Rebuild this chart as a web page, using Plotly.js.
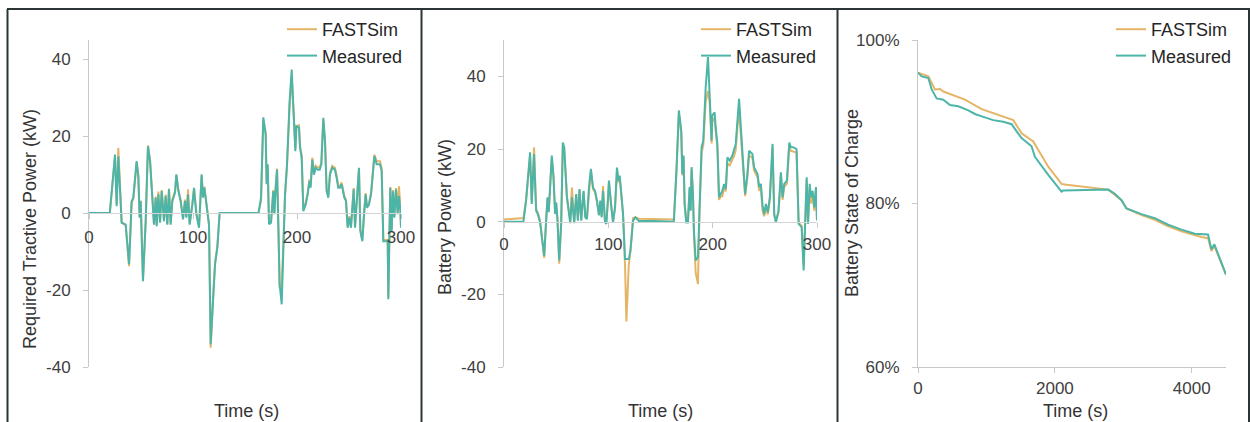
<!DOCTYPE html>
<html>
<head>
<meta charset="utf-8">
<script src="https://cdn.plot.ly/plotly-3.0.1.min.js"></script>
<style>html,body{margin:0;padding:0;background:#fff;}#chart{width:1250px;height:422px;}</style>
</head>
<body>
<div id="chart"></div>
<script>
// ---------- Panel 1: Required tractive power (kW) ----------
const tracTime = [0,20,25,26.6,28.2,30.4,31.4,35.3,38.5,40.1,41,42.6,45.8,47.4,48.7,49.7,51.9,54.5,56.7,58.7,62.5,64.1,65.1,66.7,68.3,69.9,72.1,73.7,75.3,76.9,78.5,80.1,82.7,84,85.9,88.1,90.4,92.3,93.6,95.2,96.8,99.4,101,103.2,105.8,108.3,109.6,110.9,112.2,113.8,115.4,117,119.2,121.2,123.4,125.6,
  163,165.4,167.6,169.9,170.8,171.8,173.1,175,177.2,178.2,179.5,180.8,182.1,183.3,185.3,186.9,188.5,190.4,192.9,194.9,196.5,197.4,198.4,199.4,201.9,202.9,204.5,206.1,208.3,210.3,211.9,213.1,214.7,216.3,217.9,219.9,221.8,223.4,225.3,226.9,228.5,230.1,231.7,233.9,236.5,238.1,239.7,241.3,242.9,245.5,247.1,248.7,250.3,251.9,253.2,254.5,255.8,257.7,259.6,260.9,262.8,264.7,266,267.3,269.2,271.2,273.1,274.4,276.6,279.8,281.4,283,284.6,287.2,287.8,289.7,291,292.3,293.6,295.2,296.8,298.1,299.4,300];
const tracMeasured = [0,0,15.2,1.8,14.8,0.6,-2.5,-3,-13.3,-3,3.1,4,13.5,9.6,-1.2,3.1,-17.7,-2.1,17.4,13.5,-3,4,-3.4,4.9,-2.5,5.7,-2.1,4.4,-3,6.2,-3,3.1,5.3,10.1,5.8,3.1,-1.6,3.1,-1.2,4.9,-3,2.2,6.6,-0.3,-3.8,10.1,4,6.6,4,-0.3,-3,-34.1,-22,-13.3,-9,0,
  0,4,24.9,20.4,7.5,12.7,-2.9,-2.5,5.7,-0.3,6.6,11.3,-3.8,-18.5,-23.7,-7.3,4.9,12.7,29.1,37.3,27.4,23.9,16.1,22.6,22.2,17,14.4,0.5,2.2,4.9,8.3,6.6,13.9,10,11.8,11.3,11.3,12.7,24.8,18.7,5.7,4,10,11.8,11.3,9.2,6.6,6.6,7.5,4,3.1,-3.8,-1.2,-3.8,1.4,6.2,-3.8,4,11.8,-4.7,-7.3,0.5,4.9,1.4,2.2,4.9,10,14.8,12.7,12.7,11,-7.3,-7.3,-7.3,-22.4,6.6,-4.7,5.7,-1.2,6.2,-0.3,4.4,0.5,-3.8];
const tracFASTSim = [0,0,14.6,2.4,17,1,-2.3,-3.2,-13.8,-3.2,2.8,3.6,13.2,10,-1,3.3,-17.2,-2.3,17.6,13.8,-2.8,4.3,-3,5.6,-2.2,6,-1.8,4.8,-2.8,6.4,-2.6,3.5,5.7,9.8,6.2,3.5,-1.3,3.5,-0.9,6.2,-2.7,2.6,6.3,0.2,-3.5,9.7,4.4,6.9,4.6,0.5,-3.2,-35,-22.5,-12.8,-8.6,0,
  0,3.2,24.2,20.8,8,12.5,-2.6,-2.2,6,-0.1,6.9,11.6,-3.5,-19.5,-19,-7.8,4.5,12.4,28,35.5,28,22.8,16.8,22.4,23,17.6,15,1,2.6,5.4,8.8,7.2,14.4,10.6,12.3,11.9,11.8,13.2,24.2,19.2,6.2,4.5,10.5,12.3,11.8,9.7,7.1,7,8,4.5,3.5,-3.4,-0.8,-3.4,1.8,6.5,-3.4,4.3,11.5,-4.3,-6.9,0.9,5.2,1.8,2.6,5.3,10.4,15.2,13.5,13.5,11.6,-6.9,-7,-7,-21.8,6.8,-4.3,6,-0.8,6.5,0.2,7,0.9,-3.4];

// ---------- Panel 2: Battery power (kW) ----------
const battTime = [0,18.6,21.2,25,26.6,28.8,30.8,32.4,34.6,36.2,38.5,40.4,41.7,42.9,45.8,47.4,49,50,51.3,52.9,54.8,56.4,57.7,60.3,63.5,65.1,67.3,69.2,70.8,72.4,74,76.3,77.9,79.5,81.4,83.3,85.3,87.2,89.1,91,92.3,93.6,94.9,96.8,98.1,99.4,100.6,102.6,104.5,106.4,108.3,109.6,110.9,112.2,114.1,116,117.3,119.6,121.2,123.7,126,129.2,145,
  162.8,165.4,167.6,169.9,170.9,172.1,173.1,174.7,176.3,177.9,178.9,179.8,181.1,182.1,183.7,185.9,187.5,189.4,191,193.3,195.5,197.1,198,199,199.6,201.9,202.9,204.5,206.1,207.7,209.3,211,212.6,214.1,216.3,218.9,220.5,222.1,225.3,227.2,229.2,231.1,233.3,234.9,238.1,239.7,243,244.6,246.2,247.8,249.4,251,252.9,254.8,257.4,259,260.6,263.1,265.4,267,268.6,271.2,273.4,275,277.2,280.4,282.4,285.3,287.2,288.5,290.1,291.4,293,294.2,295.8,297.4,299,300];
const battMeasured = [0,0,5.8,19.1,4.9,18.6,3,2.1,-0.2,-4.3,-9.4,0.3,6.7,2.6,18.2,12.7,2.1,5.3,0.3,-10.7,-0.6,21.8,20.5,6.7,-0.4,6.7,-0.4,7.6,0.3,9,0.3,8.5,1.2,0.7,9.4,14.5,9.4,8.5,5.8,1.7,5.8,1.2,8.5,-0.2,-0.6,4.9,11.3,4.9,-0.2,3.9,14.9,11.3,12.7,8.5,2.1,-10.3,-10.3,-10.3,-8,0.3,1.2,0.2,0.2,
  0,15,30.6,25.1,13.1,18.2,4.9,-0.2,-0.2,9.5,3,15,7.6,-2.9,-10.7,-9.8,4.9,20.5,22.3,37,45.3,34.2,28.7,22.3,29.2,30.1,26,21.4,6.7,7.6,8.5,10.4,9,17.7,16.8,18.2,19.5,21.4,33.8,24.2,15,7.6,13.1,19.5,18.6,15,13.1,9.5,10.4,4.4,2.1,4.9,2.6,6.7,21.4,2.1,-0.2,3,13.6,6.7,10.4,11.3,21.8,20.5,20.5,20,-0.6,-1.5,-13.4,-1.5,12.2,-0.6,10.4,6.7,8.5,3.9,9.5,0.3];
const battFASTSim = [0.6,1,6.2,18,5.4,20.5,3.4,2.5,0.2,-4.6,-10,0.6,6.3,3,17.6,12.3,2.5,5,0.6,-11.6,-0.3,21.2,20,7,0,9.4,0,7.3,0.6,8.7,0.6,8.2,1.5,1,9,14,9,8.2,5.5,2,5.5,1.5,9.8,0.1,-0.3,4.6,10.8,4.6,0.1,3.6,14.3,10.8,12.2,8,2,-12,-27.5,-12,-8,1,1.2,0.8,0.8,
  0.6,14,29.8,24.4,12.7,17.6,5.2,0.2,0.2,9,3.4,14.4,7.2,-3.5,-14,-17.2,4.2,19,21,33,36,33,27.5,21.5,27.5,28.5,25,20.5,6,7,7,9.5,8.3,16,15.5,16.8,18,19.8,31.5,23,14,7,12.3,18.3,17.5,14,12.3,8.5,9.5,3,1.5,4.3,2,6,20.5,1.7,0.1,2.6,12.6,6,9.6,10.5,20.5,19.5,19.3,19,-0.3,-1.2,-12,-1.2,11.5,-0.3,9.5,5,7.5,3,8.5,0.5];

// ---------- Panel 3: Battery state of charge (%) ----------
const socTimeMeasured = [0,54,151,200,272,370,467,589,735,832,954,1100,1246,1368,1392,1513,1659,1708,1903,2097,2122,2779,2876,2973,3046,3265,3460,3655,3849,4044,4238,4287,4330,4500];
const socMeasured = [96.0,95.55,95.35,93.95,92.86,92.7,92.05,91.9,91.4,90.95,90.6,90.2,90.0,89.7,89.4,88.0,87.0,85.7,83.5,81.45,81.6,81.7,81.2,80.4,79.4,78.7,78.2,77.4,76.8,76.3,76.2,74.4,75.0,71.3];
const socTimeFASTSim = [0,151,248,321,370,686,930,1173,1392,1513,1684,1903,2097,2170,2779,2973,3046,3265,3460,3655,3849,4141,4238,4287,4330,4500];
const socFASTSim = [96.0,95.55,93.95,94.0,93.7,92.7,91.55,90.85,90.2,88.6,87.6,84.5,82.4,82.3,81.7,80.4,79.4,78.6,78.0,77.2,76.6,75.9,75.75,74.2,74.8,71.3];

// ---------- text ----------
const seriesNames = ["FASTSim", "Measured"];
const yTitles = ["Required Tractive Power (kW)", "Battery Power (kW)", "Battery State of Charge"];
const xTitle = "Time (s)";
const powerTicks = [-40, -20, 0, 20, 40];
const powerTickText = ["-40", "-20", "0", "20", "40"];
const timeTicksShort = [0, 100, 200, 300];
const timeTicksLong = [0, 2000, 4000];
const socTicks = [60, 80, 100];
const socTickText = ["60%", "80%", "100%"];

const SIM_COLOR = "#E5B567";
const MEAS_COLOR = "#4DB5A8";
const FONT = "Liberation Sans, Arial, sans-serif";
const W = 1250, H = 422;
const px = v => v / W;
const py = v => 1 - v / H;

function tr(x, y, name, color, xa, ya, leg) {
  return {x: x, y: y, name: name, type: "scatter", mode: "lines",
    line: {color: color, width: 2}, xaxis: xa, yaxis: ya, legend: leg, hoverinfo: "skip"};
}

const data = [
  tr(tracTime, tracFASTSim, seriesNames[0], SIM_COLOR, "x", "y", "legend"),
  tr(tracTime, tracMeasured, seriesNames[1], MEAS_COLOR, "x", "y", "legend"),
  tr(battTime, battFASTSim, seriesNames[0], SIM_COLOR, "x2", "y2", "legend2"),
  tr(battTime, battMeasured, seriesNames[1], MEAS_COLOR, "x2", "y2", "legend2"),
  tr(socTimeFASTSim, socFASTSim, seriesNames[0], SIM_COLOR, "x3", "y3", "legend3"),
  tr(socTimeMeasured, socMeasured, seriesNames[1], MEAS_COLOR, "x3", "y3", "legend3")
];

const yDom = [py(367), py(40)];
const tickFont = {family: FONT, size: 17, color: "#404040"};
function yAx(range, ticks, labels, extra) {
  return Object.assign({domain: yDom, range: range, tickmode: "array", tickvals: ticks, ticktext: labels,
    showgrid: false, zeroline: false,
    showline: true, linecolor: "#c8c8c8", linewidth: 1, ticks: "outside", ticklen: 5, tickcolor: "#c8c8c8",
    tickfont: tickFont, ticklabelstandoff: 9, fixedrange: true}, extra || {});
}
function xAx(domain, range, ticks, extra) {
  return Object.assign({domain: domain, range: range, tickmode: "array", tickvals: ticks, showgrid: false, zeroline: false,
    showline: true, linecolor: "#d4d4d4", linewidth: 1, ticks: "outside", ticklen: 5, tickcolor: "#c8c8c8",
    tickfont: tickFont, fixedrange: true}, extra || {});
}
const r1 = [-40, 45], r2 = [-40, 50];
const zeroPos = r => yDom[0] + (0 - r[0]) / (r[1] - r[0]) * (yDom[1] - yDom[0]);

const legFont = {family: FONT, size: 18, color: "#262626"};
function leg(xpx) {
  return {x: px(xpx), y: py(11), xanchor: "left", yanchor: "top", bgcolor: "rgba(0,0,0,0)",
    borderwidth: 0, font: legFont, itemwidth: 30, tracegroupgap: 0};
}

function ann(text, xp, yp, angle) {
  return {text: text, xref: "paper", yref: "paper", x: px(xp), y: py(yp), xanchor: "center", yanchor: "middle",
    showarrow: false, textangle: angle || 0, font: {family: FONT, size: 18, color: "#333333"}};
}

const frameColor = "#2b3535";
function vline(x) {
  return {type: "line", xref: "paper", yref: "paper", x0: px(x), x1: px(x), y0: py(9), y1: 0,
    line: {color: frameColor, width: 2}};
}

const layout = {
  width: W, height: H, margin: {l: 0, r: 0, t: 0, b: 0},
  paper_bgcolor: "#ffffff", plot_bgcolor: "rgba(0,0,0,0)",
  font: {family: FONT, color: "#404040"},
  showlegend: true,
  xaxis: xAx([px(89), px(401)], [0, 300], timeTicksShort, {anchor: "free", position: zeroPos(r1), ticklabelstandoff: 3}),
  yaxis: yAx(r1, powerTicks, powerTickText, {anchor: "x"}),
  xaxis2: xAx([px(504), px(817)], [0, 300], timeTicksShort, {anchor: "free", position: zeroPos(r2), ticklabelstandoff: 2}),
  yaxis2: yAx(r2, powerTicks, powerTickText, {anchor: "x2"}),
  xaxis3: xAx([px(918), px(1226)], [0, 4500], timeTicksLong, {anchor: "y3", linecolor: "#c8c8c8", ticklabelstandoff: 1}),
  yaxis3: yAx([60, 100], socTicks, socTickText, {anchor: "x3"}),
  legend: leg(282),
  legend2: leg(696),
  legend3: leg(1111),
  annotations: [
    ann(yTitles[0], 30, 229, -90),
    ann(yTitles[1], 445, 217, -90),
    ann(yTitles[2], 852, 203, -90),
    ann(xTitle, 246, 411),
    ann(xTitle, 660, 411),
    ann(xTitle, 1075, 411)
  ],
  shapes: [
    {type: "line", xref: "paper", yref: "paper", x0: px(7), x1: 1, y0: py(9), y1: py(9), line: {color: frameColor, width: 2}},
    vline(7.5), vline(421.5), vline(837.5), vline(1249)
  ]
};

Plotly.newPlot("chart", data, layout, {displayModeBar: false, staticPlot: true});
</script>
</body>
</html>
